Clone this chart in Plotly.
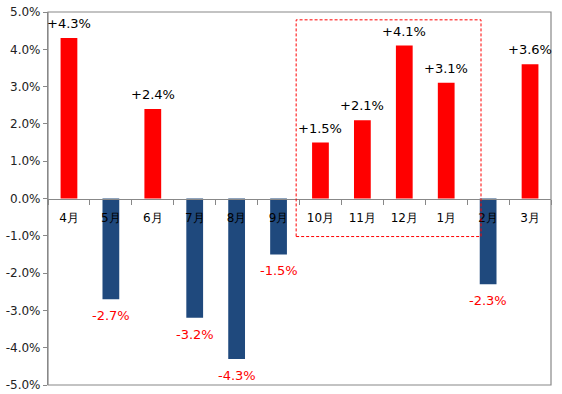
import plotly.graph_objects as go

months = ["4月", "5月", "6月", "7月", "8月", "9月", "10月", "11月", "12月", "1月", "2月", "3月"]
values = [4.3, -2.7, 2.4, -3.2, -4.3, -1.5, 1.5, 2.1, 4.1, 3.1, -2.3, 3.6]
y_ticks = [-5, -4, -3, -2, -1, 0, 1, 2, 3, 4, 5]
y_ticktext = [f"{t:.1f}%" for t in y_ticks]

RED = "#FF0000"
NAVY = "#1F497D"
FONT = "DejaVu Sans"

colors = [RED if v >= 0 else NAVY for v in values]

fig = go.Figure()
fig.add_trace(go.Bar(x=months, y=values, marker=dict(color=colors, line=dict(width=0)),
                     showlegend=False, hoverinfo="skip"))

for m, v in zip(months, values):
    label = f"+{v:.1f}%" if v >= 0 else f"-{abs(v):.1f}%"
    fig.add_annotation(
        x=m, y=v, text=label, showarrow=False,
        yanchor="bottom" if v >= 0 else "top",
        yshift=5 if v >= 0 else -7,
        font=dict(family=FONT, size=13, color="#000000" if v >= 0 else RED),
    )

# highlight box around 10月–1月
fig.add_shape(type="rect", xref="x", yref="y", x0=5.42, x1=9.83, y0=-1.02, y1=4.79,
              line=dict(color=RED, width=1, dash="3px,2px"), fillcolor="rgba(0,0,0,0)")

# plot area border
fig.add_shape(type="rect", xref="paper", yref="paper", x0=0, x1=1, y0=0, y1=1,
              line=dict(color="#888888", width=1.2), layer="above")

fig.update_layout(
    width=562, height=394,
    margin=dict(l=48, r=11, t=12, b=9),
    plot_bgcolor="white", paper_bgcolor="white",
    bargap=0.6,
    font=dict(family=FONT, size=12, color="#222222"),
    xaxis=dict(
        type="category", anchor="free", position=0.5, automargin=False,
        showline=True, linecolor="#888888", linewidth=1.2,
        ticks="outside", ticklen=5, tickcolor="#888888", tickson="boundaries",
        ticklabelstandoff=8,
        showgrid=False, zeroline=False,
        tickfont=dict(family=FONT, size=12, color="#000000"),
        range=[-0.5, 11.5],
    ),
    yaxis=dict(
        range=[-5, 5], tickvals=y_ticks, ticktext=y_ticktext, automargin=False,
        showgrid=False, zeroline=False,
        showline=True, linecolor="#888888", linewidth=1.2,
        ticks="outside", ticklen=4, tickcolor="#888888",
        tickfont=dict(family=FONT, size=12, color="#222222"),
    ),
)

fig.write_html("out.html", config={"displayModeBar": False},
               post_script="document.body.style.margin='0';document.body.style.overflow='hidden';")
